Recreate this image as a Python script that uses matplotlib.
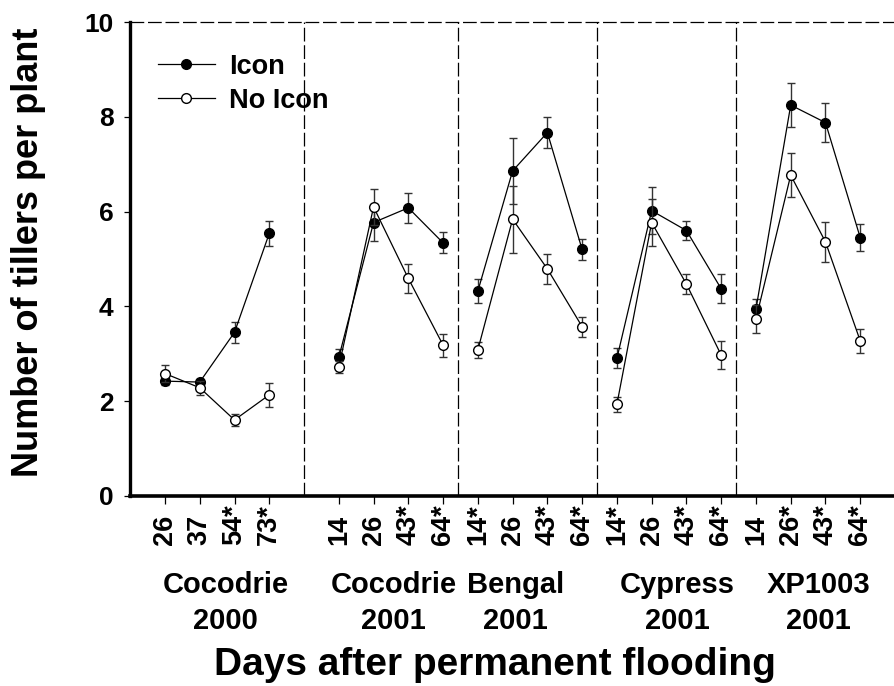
import matplotlib
matplotlib.use("Agg")
import matplotlib.pyplot as plt
from matplotlib.lines import Line2D

plt.rcParams['font.family'] = ['Liberation Sans', 'DejaVu Sans']
plt.rcParams['font.weight'] = 'bold'

# ---- data ----
groups = ["Cocodrie\n2000", "Cocodrie\n2001", "Bengal\n2001", "Cypress\n2001", "XP1003\n2001"]
day_labels = ["26", "37", "54*", "73*",
              "14", "26", "43*", "64*",
              "14*", "26", "43*", "64*",
              "14*", "26", "43*", "64*",
              "14", "26*", "43*", "64*"]
x_pos = [1, 2, 3, 4, 6, 7, 8, 9, 10, 11, 12, 13, 14, 15, 16, 17, 18, 19, 20, 21]
icon = [2.42, 2.40, 3.45, 5.54,
        2.92, 5.77, 6.08, 5.34,
        4.32, 6.86, 7.67, 5.20,
        2.90, 6.02, 5.60, 4.37,
        3.94, 8.25, 7.88, 5.45]
icon_err = [0.08, 0.07, 0.22, 0.27,
            0.18, 0.39, 0.32, 0.22,
            0.26, 0.70, 0.33, 0.23,
            0.21, 0.49, 0.21, 0.31,
            0.21, 0.46, 0.42, 0.28]
noicon = [2.58, 2.28, 1.60, 2.13,
          2.72, 6.10, 4.59, 3.18,
          3.08, 5.84, 4.79, 3.57,
          1.93, 5.77, 4.47, 2.97,
          3.73, 6.77, 5.36, 3.27]
noicon_err = [0.17, 0.15, 0.13, 0.26,
              0.12, 0.38, 0.30, 0.24,
              0.17, 0.71, 0.31, 0.21,
              0.16, 0.49, 0.21, 0.30,
              0.29, 0.47, 0.42, 0.26]
group_sizes = [4, 4, 4, 4, 4]

# ---- layout ----
separators = [5.0, 9.43, 13.43, 17.43]
group_label_x = [2.75, 7.57, 11.08, 15.75, 19.8]

fig = plt.figure(figsize=(8.95, 6.86), dpi=100)
ax = fig.add_axes([0.1455, 0.2774, 0.8545, 0.6902])
ax.set_xlim(0, 22)
ax.set_ylim(0, 10)

dash = (0, (11, 3))
for s in separators:
    ax.axvline(s, color='black', lw=0.9, ls=dash, zorder=1)
ax.axhline(10, color='black', lw=0.9, ls=dash, zorder=1, clip_on=False)

start = 0
for n in group_sizes:
    sl = slice(start, start + n)
    ax.errorbar(x_pos[sl], icon[sl], yerr=icon_err[sl], color='black', lw=0.9,
                marker='o', ms=7, mfc='black', mec='black', ecolor='#333333',
                elinewidth=1.0, capsize=3.2, capthick=1.0, zorder=3)
    start += n
start = 0
for n in group_sizes:
    sl = slice(start, start + n)
    ax.errorbar(x_pos[sl], noicon[sl], yerr=noicon_err[sl], color='black', lw=0.9,
                marker='o', ms=7, mfc='white', mec='black', mew=1.0, ecolor='#333333',
                elinewidth=1.0, capsize=3.2, capthick=1.0, zorder=4)
    start += n

for sp in ['top', 'right']:
    ax.spines[sp].set_visible(False)
ax.spines['left'].set_linewidth(2.4)
ax.spines['bottom'].set_linewidth(2.6)

ax.set_yticks([0, 2, 4, 6, 8, 10])
ax.tick_params(axis='y', direction='out', length=4, width=0.9, pad=8, labelsize=19)
for t in ax.get_yticklabels():
    t.set_fontweight('bold')
ax.set_xticks(x_pos)
ax.set_xticklabels([])
ax.tick_params(axis='x', direction='out', length=6, width=0.9)

trans = ax.get_xaxis_transform()
for xp, lab in zip(x_pos, day_labels):
    ax.text(xp, -0.104, lab, transform=trans, rotation=90, rotation_mode='anchor',
            ha='left', va='center', fontsize=19.5, fontweight='bold', clip_on=False)

for gx, g in zip(group_label_x, groups):
    line1, line2 = g.split("\n")
    ax.text(gx, -0.1886, line1, transform=trans, ha='center', va='center', fontsize=21,
            fontweight='bold', clip_on=False)
    ax.text(gx, -0.2647, line2, transform=trans, ha='center', va='center', fontsize=21,
            fontweight='bold', clip_on=False)

fig.text(0.553, 0.030, "Days after permanent flooding", ha='center', va='center',
         fontsize=28, fontweight='bold')
fig.text(0.032, 0.633, "Number of tillers per plant", ha='center', va='center',
         rotation=90, fontsize=26, fontweight='bold')

handles = [Line2D([], [], color='black', lw=0.9, marker='o', ms=7, mfc='black', mec='black'),
           Line2D([], [], color='black', lw=0.9, marker='o', ms=7, mfc='white', mec='black')]
leg = ax.legend(handles, ["Icon", "No Icon"], loc='upper left', bbox_to_anchor=(0.004, 0.985),
                frameon=False, handlelength=2.1, handletextpad=0.55, labelspacing=0.3,
                prop={'weight': 'bold', 'size': 19.5})

fig.savefig("out.png", dpi=100)
